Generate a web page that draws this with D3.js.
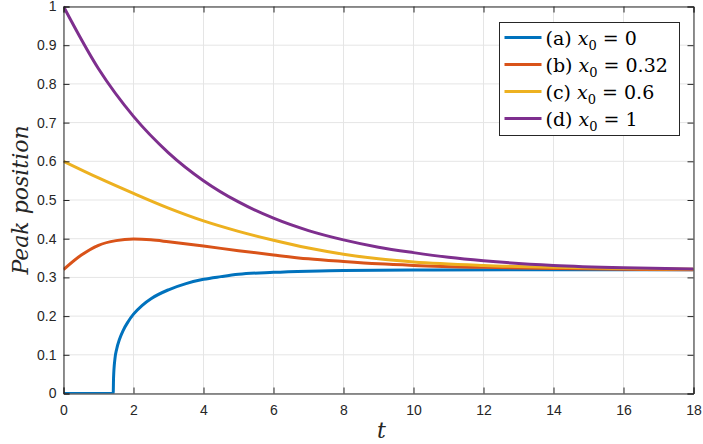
<!DOCTYPE html>
<html>
<head>
<meta charset="utf-8">
<script src="https://cdn.jsdelivr.net/npm/d3@7"></script>
<style>
  body { margin: 0; background: #fff; }
  .tick text { font-family: "Liberation Sans", Arial, sans-serif; font-size: 14px; fill: #262626; }
  .serif { font-family: "DejaVu Serif", "Liberation Serif", serif; }
</style>
</head>
<body>
<div id="container"></div>
<script>
/* DATA */
const tA = [0, 1.42, 1.43, 1.47, 1.52, 1.6, 1.7, 1.85, 2, 2.25, 2.5, 3, 3.5, 4, 4.5, 5, 6, 7, 8, 10, 13, 18];
const yA = [0, 0, 0.04, 0.09, 0.115, 0.14, 0.162, 0.186, 0.205, 0.228, 0.245, 0.268, 0.284, 0.295, 0.302, 0.308, 0.313, 0.316, 0.318, 0.319, 0.32, 0.32];

const tB = [0, 0.5, 1, 1.5, 2, 2.5, 3, 4, 5, 6, 7, 8, 9, 10, 12, 14, 16, 18];
const yB = [0.32, 0.357, 0.383, 0.395, 0.399, 0.397, 0.392, 0.381, 0.369, 0.358, 0.348, 0.341, 0.335, 0.331, 0.326, 0.323, 0.321, 0.32];

const tC = [0, 1, 2, 3, 4, 5, 6, 7, 8, 9, 10, 12, 14, 16, 18];
const yC = [0.6, 0.557, 0.517, 0.479, 0.446, 0.419, 0.396, 0.376, 0.36, 0.348, 0.34, 0.331, 0.326, 0.323, 0.321];

const tD = [0, 1, 2, 3, 4, 5, 6, 7, 8, 9, 10, 11, 12, 14, 16, 18];
const yD = [1, 0.839, 0.716, 0.622, 0.55, 0.495, 0.453, 0.421, 0.397, 0.378, 0.364, 0.352, 0.343, 0.331, 0.325, 0.322];

const seriesNames = ["(a) ", "(b) ", "(c) ", "(d) "];
const seriesValues = ["0", "0.32", "0.6", "1"];
const colors = ["#0072BD", "#D95319", "#EDB120", "#7E2F8E"];

const xTicks = [0, 2, 4, 6, 8, 10, 12, 14, 16, 18];
const yTicks = [0, 0.1, 0.2, 0.3, 0.4, 0.5, 0.6, 0.7, 0.8, 0.9, 1];

const series = [[tA, yA], [tB, yB], [tC, yC], [tD, yD]].map(([t, y]) => t.map((d, i) => ({ t: d, y: y[i] })));

/* LAYOUT */
const width = 703, height = 444;
const margin = { top: 6.5, right: 9.5, bottom: 50.5, left: 63.5 };

const svg = d3.select("#container").append("svg")
  .attr("width", width)
  .attr("height", height);

const xScale = d3.scaleLinear().domain([0, 18]).range([margin.left, width - margin.right]);
const yScale = d3.scaleLinear().domain([0, 1]).range([height - margin.bottom, margin.top]);

// grid
svg.append("g").selectAll("line").data(xTicks).join("line")
  .attr("x1", d => xScale(d)).attr("x2", d => xScale(d))
  .attr("y1", yScale(0)).attr("y2", yScale(1))
  .attr("stroke", "#e5e5e5").attr("stroke-width", 1);
svg.append("g").selectAll("line").data(yTicks).join("line")
  .attr("y1", d => yScale(d)).attr("y2", d => yScale(d))
  .attr("x1", xScale(0)).attr("x2", xScale(18))
  .attr("stroke", "#e5e5e5").attr("stroke-width", 1);

// lines
svg.append("clipPath").attr("id", "clip").append("rect")
  .attr("x", xScale(0)).attr("y", yScale(1) - 2)
  .attr("width", xScale(18) - xScale(0)).attr("height", yScale(0) - yScale(1) + 2);

const lineGen = d3.line()
  .x(d => xScale(d.t))
  .y(d => yScale(d.y))
  .curve(d3.curveMonotoneX);

svg.append("g").attr("clip-path", "url(#clip)")
  .selectAll("path").data(series).join("path")
  .attr("d", lineGen)
  .attr("fill", "none")
  .attr("stroke", (d, i) => colors[i])
  .attr("stroke-width", 3)
  .attr("stroke-linejoin", "round");

// axes (ticks inward, box on all sides)
const tickLen = 6;
const fmt = d => d === 0 ? "0" : d === 1 ? "1" : d3.format("")(d);

const xAxis = svg.append("g")
  .attr("transform", `translate(0, ${yScale(0)})`)
  .call(d3.axisBottom(xScale).tickValues(xTicks).tickSize(-tickLen).tickPadding(12).tickFormat(fmt));
const yAxis = svg.append("g")
  .attr("transform", `translate(${xScale(0)}, 0)`)
  .call(d3.axisLeft(yScale).tickValues(yTicks).tickSize(-tickLen).tickPadding(7).tickFormat(fmt));
const xTop = svg.append("g")
  .attr("transform", `translate(0, ${yScale(1)})`)
  .call(d3.axisTop(xScale).tickValues(xTicks).tickSize(-tickLen).tickFormat(""));
const yRight = svg.append("g")
  .attr("transform", `translate(${xScale(18)}, 0)`)
  .call(d3.axisRight(yScale).tickValues(yTicks).tickSize(-tickLen).tickFormat(""));

[xAxis, yAxis, xTop, yRight].forEach(g => {
  g.selectAll("path.domain").attr("stroke", "#262626").attr("stroke-width", 1);
  g.selectAll(".tick line").attr("stroke", "#262626");
});

// axis labels
svg.append("text")
  .attr("class", "serif")
  .attr("x", xScale(9) + 3).attr("y", 438)
  .attr("text-anchor", "middle")
  .style("font-style", "italic")
  .style("font-size", "22px")
  .attr("fill", "#262626")
  .text("t");

svg.append("text")
  .attr("class", "serif")
  .attr("transform", `translate(28, ${yScale(0.5)}) rotate(-90)`)
  .attr("text-anchor", "middle")
  .style("font-style", "italic")
  .style("font-size", "22px")
  .attr("fill", "#262626")
  .text("Peak position");

// legend
const legend = svg.append("g").attr("transform", "translate(499.5, 22.5)");
legend.append("rect")
  .attr("width", 180).attr("height", 113)
  .attr("fill", "#fff")
  .attr("stroke", "#262626").attr("stroke-width", 1);

const rows = legend.selectAll("g.row").data(seriesNames).join("g")
  .attr("class", "row")
  .attr("transform", (d, i) => `translate(0, ${15 + i * 27})`);

rows.append("line")
  .attr("x1", 5).attr("x2", 42)
  .attr("stroke", (d, i) => colors[i])
  .attr("stroke-width", 3);

const txt = rows.append("text")
  .attr("class", "serif")
  .attr("x", 46).attr("y", 7)
  .style("font-size", "19px")
  .attr("fill", "#000");
txt.append("tspan").text(d => d);
txt.append("tspan").style("font-style", "italic").text("x");
txt.append("tspan").attr("dy", 5).style("font-size", "13px").text("0");
txt.append("tspan").attr("dy", -5).text((d, i) => " = " + seriesValues[i]);
</script>
</body>
</html>
